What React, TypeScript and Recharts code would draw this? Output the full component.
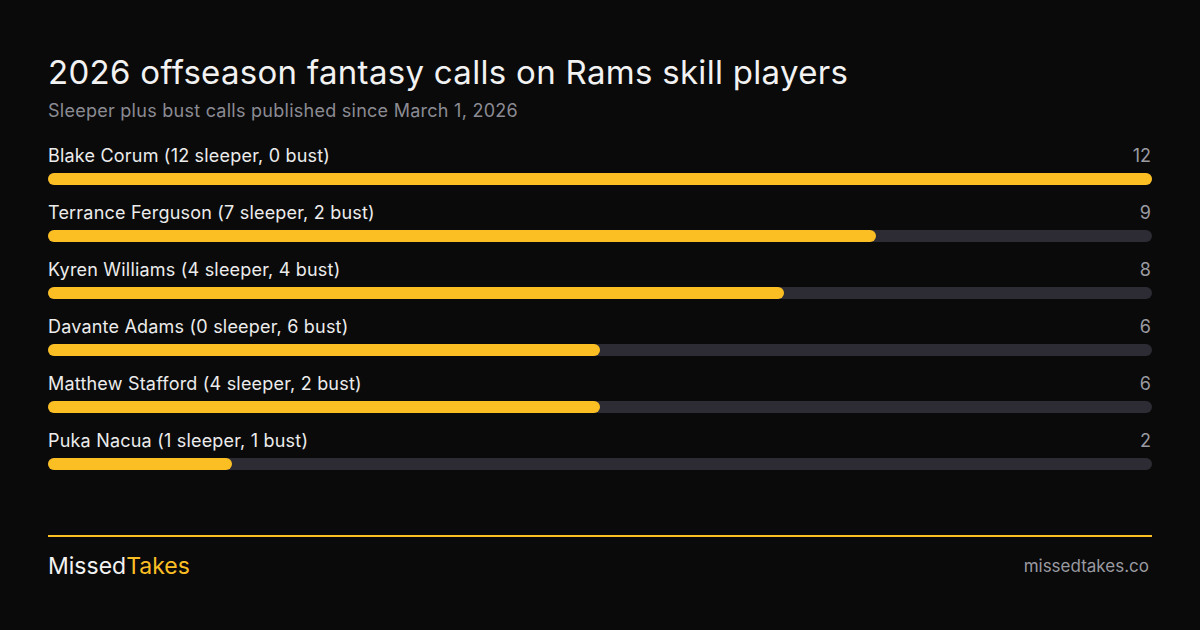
import React from 'react';
import { BarChart, Bar, XAxis, YAxis, LabelList } from 'recharts';

// Rams skill players, calls published since March 1, 2026
const players = ['Blake Corum', 'Terrance Ferguson', 'Kyren Williams', 'Davante Adams', 'Matthew Stafford', 'Puka Nacua'];
const sleeperCalls = [12, 7, 4, 0, 4, 1];
const bustCalls = [0, 2, 4, 6, 2, 1];
const totalCalls = [12, 9, 8, 6, 6, 2];
const xTicks = [0, 12];

const FONT = 'Inter, "Noto Sans", sans-serif';
const BG = '#0a0a0a';
const YELLOW = '#fbbf24';
const TRACK = '#2d2b33';

const CHART_LEFT = 48;
const CHART_WIDTH = 1104;
const CHART_TOP = 120;
const TOP_PAD = 30;
const CHART_HEIGHT = 342 + TOP_PAD;

const data = players.map((name, i) => ({
  name,
  label: `${name} (${sleeperCalls[i]} sleeper, ${bustCalls[i]} bust)`,
  total: totalCalls[i],
}));

const RowLabel = (props: any) => {
  const { y, index } = props;
  const row = data[index];
  return (
    <g>
      <text x={0} y={y - 11} fill="#ececec" fontSize={18} fontFamily={FONT} letterSpacing={0.2} textAnchor="start">
        {row.label}
      </text>
      <text x={CHART_WIDTH - 1} y={y - 11} fill="#9a9aa1" fontSize={18} fontFamily={FONT} textAnchor="end">
        {row.total}
      </text>
    </g>
  );
};

export default function App() {
  return (
    <div style={{ position: 'absolute', top: 0, left: 0, width: 1200, height: 630, background: BG, fontFamily: FONT, overflow: 'hidden' }}>
      <div style={{ position: 'absolute', left: 48, top: 52, fontSize: 33, lineHeight: '40px', color: '#f2f2f2', fontWeight: 400, letterSpacing: 0.3, whiteSpace: 'nowrap' }}>
        2026 offseason fantasy calls on Rams skill players
      </div>
      <div style={{ position: 'absolute', left: 48, top: 99, fontSize: 18, lineHeight: '24px', color: '#8b8b93', letterSpacing: 0.26, whiteSpace: 'nowrap' }}>
        Sleeper plus bust calls published since March 1, 2026
      </div>

      <div style={{ position: 'absolute', left: CHART_LEFT, top: CHART_TOP }}>
        <BarChart
          width={CHART_WIDTH}
          height={CHART_HEIGHT}
          data={data}
          layout="vertical"
          margin={{ top: TOP_PAD, right: 0, bottom: 0, left: 0 }}
        >
          <XAxis type="number" domain={[0, 12]} ticks={xTicks} hide />
          <YAxis type="category" dataKey="name" hide />
          <Bar
            dataKey="total"
            fill={YELLOW}
            barSize={12}
            radius={6}
            background={{ fill: TRACK, radius: 6 }}
            isAnimationActive={false}
          >
            <LabelList dataKey="total" content={<RowLabel />} />
          </Bar>
        </BarChart>
      </div>

      <div style={{ position: 'absolute', left: 48, top: 535, width: 1104, height: 2, background: YELLOW }} />
      <div style={{ position: 'absolute', left: 48, top: 552, fontSize: 23, lineHeight: '28px', color: '#f2f2f2' }}>
        Missed<span style={{ color: YELLOW }}>Takes</span>
      </div>
      <div style={{ position: 'absolute', right: 51, top: 555, fontSize: 17, lineHeight: '22px', color: '#9a9aa1' }}>
        missedtakes.co
      </div>
    </div>
  );
}
